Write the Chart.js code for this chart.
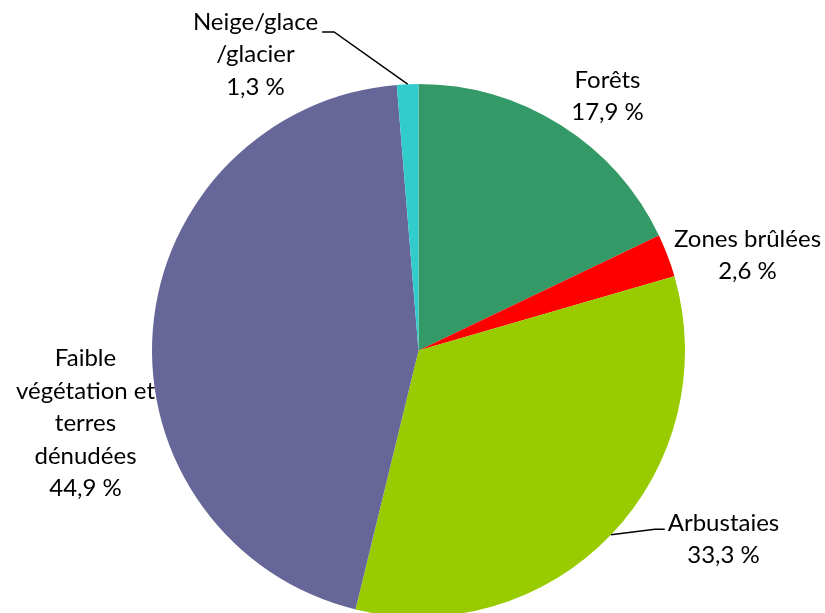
<!DOCTYPE html>
<html>
<head>
<meta charset="utf-8">
<script src="https://cdn.jsdelivr.net/npm/chart.js@4/dist/chart.umd.min.js"></script>
<style>
html,body{margin:0;padding:0;background:#fff;overflow:hidden;width:825px;height:613px;}
#wrap{position:relative;width:825px;height:620px;}
</style>
</head>
<body>
<div id="wrap"><canvas id="c" width="825" height="620"></canvas></div>
<script>
const categories = ["Forêts", "Zones brûlées", "Arbustaies", "Faible végétation et terres dénudées", "Neige/glace /glacier"];
const values = [17.9, 2.6, 33.3, 44.9, 1.3];
const colors = ["#339966", "#ff0000", "#99cc00", "#666699", "#33cccc"];
const labelLines = [
  ["Forêts", "17,9 %"],
  ["Zones brûlées", "2,6 %"],
  ["Arbustaies", "33,3 %"],
  ["Faible", "végétation et", "terres", "dénudées", "44,9 %"],
  ["Neige/glace", "/glacier", "1,3 %"]
];

// label layout (offsets of label centre from pie centre, in px)
const labelLayout = [
  {dx: 189, dy: -254, leader: false},
  {dx: 329, dy: -95, leader: false},
  {dx: 305, dy: 189, leader: true, anchorSide: 'left'},
  {dx: -333, dy: 73, leader: false},
  {dx: -163, dy: -296, leader: true, anchorSide: 'right'}
];

const FONT = '24px "Lato", "Liberation Sans", sans-serif';
const LH = 32.5;

const labelPlugin = {
  id: 'labels',
  afterDraw(chart) {
    const ctx = chart.ctx;
    const meta = chart.getDatasetMeta(0);
    ctx.save();
    ctx.font = FONT;
    ctx.fillStyle = '#000';
    ctx.textAlign = 'center';
    ctx.textBaseline = 'middle';
    meta.data.forEach((arc, i) => {
      const p = arc.getProps(['x','y','startAngle','endAngle','outerRadius'], true);
      const lay = labelLayout[i];
      const lines = labelLines[i];
      const cx = p.x + lay.dx, cy = p.y + lay.dy;
      const top = cy - (lines.length - 1) * LH / 2;
      lines.forEach((t, k) => ctx.fillText(t, cx, top + k * LH));
      if (lay.leader) {
        const mid = (p.startAngle + p.endAngle) / 2;
        const ax = p.x + Math.cos(mid) * p.outerRadius;
        const ay = p.y + Math.sin(mid) * p.outerRadius;
        const w0 = ctx.measureText(lines[0]).width;
        let ex, ey, hx;
        if (lay.anchorSide === 'left') {
          ex = cx - w0 / 2 - 3; hx = ex - 10;
          ey = top + 6;
        } else {
          ex = cx + w0 / 2 + 4; hx = ex + 12;
          ey = top + 10;
        }
        ctx.beginPath();
        ctx.strokeStyle = '#000';
        ctx.lineWidth = 1.5;
        ctx.moveTo(ax, ay);
        ctx.lineTo(hx, ey);
        ctx.lineTo(ex, ey);
        ctx.stroke();
      }
    });
    ctx.restore();
  }
};

new Chart(document.getElementById('c'), {
  type: 'pie',
  data: {
    labels: categories,
    datasets: [{
      data: values,
      backgroundColor: colors,
      borderWidth: 0
    }]
  },
  options: {
    responsive: false,
    devicePixelRatio: 1,
    animation: false,
    layout: {padding: {top: 84, bottom: 3, left: 152, right: 140}},
    plugins: {legend: {display: false}, tooltip: {enabled: false}}
  },
  plugins: [labelPlugin]
});
</script>
</body>
</html>
